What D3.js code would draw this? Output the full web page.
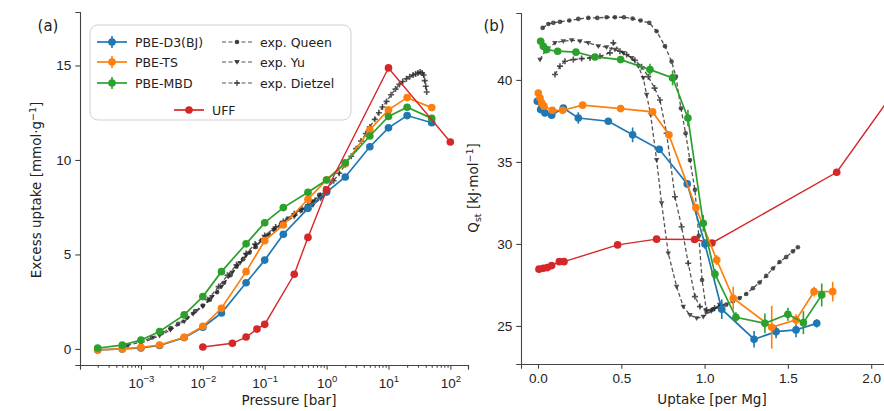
<!DOCTYPE html>
<html>
<head>
<meta charset="utf-8">
<title>Excess uptake and Qst</title>
<style>
  body { margin: 0; background: #fff; }
  svg { display: block; font-family: "DejaVu Sans", sans-serif; }
  .tick text { fill: #222; font-size: 13.5px; }
  .domain, .tick line { stroke: #444; }
</style>
</head>
<body>
<div id="chart"></div>
<script src="https://cdn.jsdelivr.net/npm/d3@7"></script>
<script>
// ---- panel (a): excess uptake vs pressure ----
var pressureDFT = [2e-4, 5e-4, 1e-3, 2e-3, 5e-3, 0.01, 0.02, 0.05, 0.1, 0.2, 0.5, 1, 2, 5, 10, 20, 50];
var uptakeD3BJ  = [-0.05, 0.0, 0.05, 0.18, 0.6, 1.15, 1.9, 3.5, 4.7, 6.07, 7.44, 8.3, 9.1, 10.7, 11.7, 12.35, 11.97];
var uptakeTS    = [-0.05, 0.0, 0.09, 0.21, 0.62, 1.2, 2.15, 4.09, 5.73, 6.56, 7.92, 8.95, 9.8, 11.6, 12.65, 13.3, 12.77];
var uptakeMBD   = [0.05, 0.2, 0.47, 0.92, 1.8, 2.77, 4.09, 5.56, 6.68, 7.48, 8.29, 8.94, 9.85, 11.27, 12.3, 12.79, 12.2];

var pressureUFF = [0.01, 0.03, 0.05, 0.075, 0.1, 0.3, 0.5, 1, 10, 100];
var uptakeUFF   = [0.1, 0.3, 0.63, 1.05, 1.3, 3.95, 5.9, 8.4, 14.87, 10.95];

var pressureQueen = [6e-4, 1e-3, 1.5e-3, 2.2e-3, 3e-3, 4e-3, 5.5e-3, 7.5e-3, 0.01, 0.013, 0.017, 0.022, 0.028, 0.035, 0.045, 0.057, 0.072, 0.09, 0.115, 0.145, 0.185, 0.235, 0.3, 0.38, 0.48, 0.6, 0.76, 0.95];
var uptakeQueen   = [0.18, 0.38, 0.6, 0.85, 1.1, 1.33, 1.65, 2.0, 2.3, 2.6, 3.0, 3.5, 3.9, 4.35, 4.75, 5.1, 5.4, 5.75, 6.05, 6.35, 6.65, 6.9, 7.1, 7.35, 7.55, 7.8, 8.15, 8.5];
var pressureYu = [1e-3, 2e-3, 3e-3, 5e-3, 7e-3, 0.01, 0.014, 0.02, 0.03, 0.04, 0.05, 0.07, 0.1, 0.14, 0.2, 0.3, 0.45, 0.6, 0.8, 1.0];
var uptakeYu   = [0.3, 0.7, 1.0, 1.45, 1.85, 2.25, 2.75, 3.3, 4.05, 4.55, 4.95, 5.45, 5.9, 6.3, 6.65, 7.0, 7.35, 7.6, 7.95, 8.25];
var pressureDietzel = [0.012, 0.018, 0.025, 0.035, 0.05, 0.07, 0.1, 0.15, 0.2, 0.3, 0.4, 0.5, 0.65, 0.8, 1.0, 1.3, 1.6, 2.0, 2.5, 3.0, 3.6, 4.3, 5.0, 6.0, 7.0, 8.0, 9.3, 11, 13, 15, 17, 19.5, 22, 25, 27.5, 30, 32.5, 35, 37, 38.5, 40, 41.5];
var uptakeDietzel   = [2.6, 3.3, 3.9, 4.45, 5.05, 5.55, 6.0, 6.45, 6.75, 7.15, 7.4, 7.6, 7.85, 8.1, 8.45, 8.9, 9.3, 9.75, 10.2, 10.6, 11.0, 11.4, 11.75, 12.15, 12.5, 12.8, 13.1, 13.45, 13.75, 14.0, 14.15, 14.3, 14.4, 14.5, 14.55, 14.6, 14.65, 14.6, 14.5, 14.2, 13.9, 13.6];

var pressureTicks = [1e-3, 1e-2, 1e-1, 1, 10, 100];
var pressureTickExp = ["\u22123", "\u22122", "\u22121", "0", "1", "2"];
var uptakeTicks = [0, 5, 10, 15];

// ---- panel (b): Qst vs uptake ----
var loadD3BJ = [-0.004, 0.016, 0.042, 0.082, 0.152, 0.242, 0.422, 0.568, 0.728, 0.896, 1.002, 1.103, 1.297, 1.429, 1.549, 1.673];
var qstD3BJ  = [38.7, 38.19, 37.99, 37.85, 38.29, 37.68, 37.48, 36.65, 35.77, 33.66, 30.0, 26.02, 24.19, 24.65, 24.76, 25.16];
var errD3BJ  = [0.1, 0.1, 0.1, 0.1, 0.15, 0.35, 0.1, 0.45, 0.2, 0.2, 0.3, 0.6, 0.5, 0.4, 0.45, 0.25];

var loadTS = [0.002, 0.012, 0.022, 0.036, 0.086, 0.148, 0.268, 0.496, 0.688, 0.786, 0.948, 1.073, 1.172, 1.403, 1.549, 1.657, 1.769];
var qstTS  = [39.2, 38.9, 38.6, 38.4, 38.15, 38.15, 38.46, 38.25, 38.05, 36.65, 32.21, 29.02, 26.69, 24.92, 25.37, 27.09, 27.09];
var errTS  = [0.1, 0.1, 0.1, 0.1, 0.1, 0.1, 0.1, 0.1, 0.1, 0.15, 0.2, 0.3, 0.7, 1.3, 0.35, 0.3, 0.6];

var loadMBD = [0.016, 0.032, 0.052, 0.118, 0.228, 0.342, 0.496, 0.672, 0.808, 0.90, 0.992, 1.062, 1.188, 1.362, 1.50, 1.593, 1.703];
var qstMBD  = [42.36, 42.05, 41.85, 41.75, 41.69, 41.4, 41.24, 40.63, 40.12, 37.68, 31.26, 28.17, 25.53, 25.16, 25.71, 25.2, 26.89];
var errMBD  = [0.1, 0.1, 0.15, 0.1, 0.1, 0.1, 0.1, 0.35, 0.45, 0.5, 0.5, 0.3, 0.3, 0.6, 0.4, 0.7, 0.7];

var loadUFF = [0.006, 0.032, 0.056, 0.082, 0.128, 0.156, 0.478, 0.712, 0.94, 1.044, 1.793, 2.4];
var qstUFF  = [28.46, 28.52, 28.56, 28.68, 28.92, 28.92, 29.94, 30.29, 30.27, 30.06, 34.37, 43.0];

var loadQueen = [0.028, 0.062, 0.092, 0.132, 0.188, 0.242, 0.302, 0.356, 0.412, 0.462, 0.516, 0.568, 0.616, 0.668, 0.712, 0.762, 0.802, 0.828, 0.858, 0.886, 0.912, 0.942, 0.965, 0.985, 1.012, 1.05, 1.09, 1.13, 1.17, 1.21, 1.25, 1.29, 1.33, 1.37, 1.41, 1.45, 1.49, 1.53, 1.56];
var qstQueen  = [43.17, 43.41, 43.48, 43.54, 43.62, 43.72, 43.78, 43.78, 43.82, 43.82, 43.82, 43.74, 43.62, 43.48, 42.97, 42.06, 41.12, 40.2, 38.27, 36.75, 35.12, 33.3, 30.5, 27.8, 25.85, 26.0, 26.15, 26.3, 26.5, 26.7, 26.95, 27.3, 27.65, 28.05, 28.5, 28.9, 29.2, 29.55, 29.8];
var loadYu = [0.012, 0.042, 0.102, 0.152, 0.202, 0.252, 0.302, 0.362, 0.412, 0.462, 0.512, 0.562, 0.602, 0.632, 0.652, 0.676, 0.712, 0.742, 0.782, 0.832, 0.872, 0.912, 0.952, 0.992, 1.04, 1.09];
var qstYu  = [41.24, 41.75, 42.26, 42.36, 42.42, 42.36, 42.26, 42.06, 42.0, 41.85, 41.65, 41.34, 40.84, 40.12, 39.1, 37.88, 35.12, 32.48, 29.43, 27.4, 26.18, 25.67, 25.47, 25.57, 25.9, 26.3];
var loadDietzel = [0.102, 0.132, 0.162, 0.212, 0.262, 0.312, 0.372, 0.432, 0.452, 0.492, 0.532, 0.582, 0.622, 0.662, 0.70, 0.732, 0.772, 0.822, 0.862, 0.902, 0.942, 0.972, 1.012, 1.06, 1.1];
var qstDietzel  = [40.33, 40.84, 41.14, 41.24, 41.3, 41.34, 41.44, 41.65, 42.26, 41.75, 41.55, 41.2, 40.8, 40.2, 39.5, 38.78, 36.75, 32.88, 31.05, 28.82, 26.79, 26.18, 25.98, 26.1, 26.3];

var loadTicks = [0, 0.5, 1.0, 1.5, 2.0];
var qstTicks = [25, 30, 35, 40];

var colors = { d3bj: "#1f77b4", ts: "#ff7f0e", mbd: "#2ca02c", uff: "#d62728", exp: "#2a2a2a" };

var W = 884, H = 411;
var svg = d3.select("#chart").append("svg").attr("width", W).attr("height", H);

function zip(xs, ys, es) {
    return xs.map(function(x, i){ return { x: x, y: ys[i], e: es ? es[i] : 0 }; });
}

function markerPath(type) {
    if (type === "small") return d3.symbol().type(d3.symbolCircle).size(17)();
    if (type === "tri") return "M-2.8,-1.9L2.8,-1.9L0,2.8Z";
    if (type === "plus") return "M-3,0L3,0M0,-3L0,3";
    return d3.symbol().type(d3.symbolCircle).size(46)();
}

function drawSeries(g, x, y, pts, opt) {
    var line = d3.line().x(function(d){ return x(d.x); }).y(function(d){ return y(d.y); });
    g.append("path").datum(pts)
        .attr("d", line)
        .attr("fill", "none")
        .attr("stroke", opt.color)
        .attr("stroke-width", opt.width || 1.7)
        .attr("stroke-dasharray", opt.dash || null)
        .attr("opacity", opt.opacity || 1);
    if (opt.err) {
        g.selectAll(null).data(pts.filter(function(d){ return d.e > 0; })).enter()
            .append("line")
            .attr("x1", function(d){ return x(d.x); })
            .attr("x2", function(d){ return x(d.x); })
            .attr("y1", function(d){ return y(d.y - d.e); })
            .attr("y2", function(d){ return y(d.y + d.e); })
            .attr("stroke", opt.color)
            .attr("stroke-width", 1.6);
    }
    g.selectAll(null).data(pts).enter()
        .append("path")
        .attr("transform", function(d){ return "translate(" + x(d.x) + "," + y(d.y) + ")"; })
        .attr("d", markerPath(opt.marker))
        .attr("fill", opt.marker === "plus" ? "none" : opt.color)
        .attr("stroke", opt.marker === "plus" ? opt.color : "none")
        .attr("stroke-width", 1.6)
        .attr("opacity", opt.opacity || 1);
}

function styleAxis(sel) {
    sel.select(".domain").attr("stroke", "#555").attr("stroke-width", 1.1);
    sel.selectAll(".tick line").attr("stroke", "#555").attr("stroke-width", 1.1);
}

// =================== panel (a) ===================
var xA = d3.scaleLog().domain([Math.pow(10, -3.985), Math.pow(10, 2.285)]).range([80, 468]);
var yA = d3.scaleLinear().domain([-0.85, 17.83]).range([365, 12]);

var gA = svg.append("g");
var clipA = svg.append("clipPath").attr("id", "clipA");
clipA.append("rect").attr("x", 80).attr("y", 0).attr("width", 388).attr("height", 365);
var plotA = gA.append("g").attr("clip-path", "url(#clipA)");

// experiments behind
var expStyle = { color: colors.exp, width: 1.3, dash: "4,2.5", opacity: 0.8 };
drawSeries(plotA, xA, yA, zip(pressureQueen, uptakeQueen), Object.assign({ marker: "small" }, expStyle));
drawSeries(plotA, xA, yA, zip(pressureYu, uptakeYu), Object.assign({ marker: "tri" }, expStyle));
drawSeries(plotA, xA, yA, zip(pressureDietzel, uptakeDietzel), Object.assign({ marker: "plus" }, expStyle));

drawSeries(plotA, xA, yA, zip(pressureDFT, uptakeD3BJ), { color: colors.d3bj, marker: "circle" });
drawSeries(plotA, xA, yA, zip(pressureDFT, uptakeTS), { color: colors.ts, marker: "circle" });
drawSeries(plotA, xA, yA, zip(pressureDFT, uptakeMBD), { color: colors.mbd, marker: "circle" });
drawSeries(plotA, xA, yA, zip(pressureUFF, uptakeUFF), { color: colors.uff, marker: "circle", width: 1.4 });

// axes (a)
var minorA = [];
for (var e = -4; e <= 2; e++) {
    for (var m = 2; m <= 9; m++) {
        var v = m * Math.pow(10, e);
        if (v > xA.domain()[0] && v < xA.domain()[1]) minorA.push(v);
    }
}
var axMinorA = gA.append("g").attr("transform", "translate(0,365)")
    .call(d3.axisBottom(xA).tickValues(minorA).tickSize(2.7).tickFormat(""));
styleAxis(axMinorA);
var axXA = gA.append("g").attr("transform", "translate(0,365)")
    .call(d3.axisBottom(xA).tickValues(pressureTicks).tickSize(4.7).tickPadding(6).tickFormat(""));
styleAxis(axXA);
axXA.selectAll(".tick").append("text")
    .attr("y", 23).attr("text-anchor", "middle")
    .each(function(d, i) {
        var t = d3.select(this);
        t.append("tspan").text("10");
        t.append("tspan").attr("dy", -6).attr("font-size", "9.5px").text(pressureTickExp[i]);
    });

var axYA = gA.append("g").attr("transform", "translate(80,0)")
    .call(d3.axisLeft(yA).tickValues(uptakeTicks).tickSize(4.7).tickPadding(4));
styleAxis(axYA);

gA.append("text").attr("x", 289).attr("y", 405).attr("text-anchor", "middle")
    .attr("font-size", "13.5px").attr("fill", "#222").text("Pressure [bar]");
gA.append("text").attr("transform", "translate(41,190) rotate(-90)").attr("text-anchor", "middle")
    .attr("font-size", "13.5px").attr("fill", "#222")
    .call(function(t){
        t.append("tspan").text("Excess uptake [mmol\u00b7g");
        t.append("tspan").attr("dy", -5).attr("font-size", "9.5px").text("\u22121");
        t.append("tspan").attr("dy", 5).text("]");
    });
gA.append("text").attr("x", 48).attr("y", 31).attr("text-anchor", "middle")
    .attr("font-size", "15px").attr("fill", "#222").text("(a)");

// legend (a)
var leg = gA.append("g");
leg.append("rect").attr("x", 90).attr("y", 25).attr("width", 261).attr("height", 95)
    .attr("rx", 8).attr("fill", "#fff").attr("fill-opacity", 0.85)
    .attr("stroke", "#d0d0d0").attr("stroke-width", 1);

var legendItems = [
    { label: "PBE-D3(BJ)", color: colors.d3bj, marker: "circle", err: true, x: 97, y: 42 },
    { label: "PBE-TS", color: colors.ts, marker: "circle", err: true, x: 97, y: 62 },
    { label: "PBE-MBD", color: colors.mbd, marker: "circle", err: true, x: 97, y: 83 },
    { label: "exp. Queen", color: colors.exp, marker: "small", dash: "4,2.5", x: 222, y: 42 },
    { label: "exp. Yu", color: colors.exp, marker: "tri", dash: "4,2.5", x: 222, y: 62 },
    { label: "exp. Dietzel", color: colors.exp, marker: "plus", dash: "4,2.5", x: 222, y: 83 },
    { label: "UFF", color: colors.uff, marker: "circle", x: 174, y: 110 }
];
legendItems.forEach(function(it) {
    var len = 30, cx = it.x + len / 2;
    leg.append("line").attr("x1", it.x).attr("x2", it.x + len).attr("y1", it.y).attr("y2", it.y)
        .attr("stroke", it.color).attr("stroke-width", it.dash ? 1.2 : 1.7)
        .attr("stroke-dasharray", it.dash || null).attr("opacity", it.dash ? 0.8 : 1);
    if (it.err) {
        leg.append("line").attr("x1", cx).attr("x2", cx).attr("y1", it.y - 6).attr("y2", it.y + 6)
            .attr("stroke", it.color).attr("stroke-width", 1.6);
    }
    leg.append("path").attr("transform", "translate(" + cx + "," + it.y + ")")
        .attr("d", markerPath(it.marker))
        .attr("fill", it.marker === "plus" ? "none" : it.color)
        .attr("stroke", it.marker === "plus" ? it.color : "none").attr("stroke-width", 1.3)
        .attr("opacity", it.dash ? 0.85 : 1);
    leg.append("text").attr("x", it.x + len + 8).attr("y", it.y).attr("dy", "0.36em")
        .attr("font-size", "12.5px").attr("fill", "#222").text(it.label);
});

// =================== panel (b) ===================
var xB = d3.scaleLinear().domain([-0.102, 2.2]).range([521, 521 + 2.302 * 166.6]);
var yB = d3.scaleLinear().domain([22.68, 44.08]).range([364, 13]);

var gB = svg.append("g");
var clipB = svg.append("clipPath").attr("id", "clipB");
clipB.append("rect").attr("x", 521).attr("y", 0).attr("width", 400).attr("height", 364);
var plotB = gB.append("g").attr("clip-path", "url(#clipB)");

drawSeries(plotB, xB, yB, zip(loadQueen, qstQueen), Object.assign({ marker: "small" }, expStyle));
drawSeries(plotB, xB, yB, zip(loadYu, qstYu), Object.assign({ marker: "tri" }, expStyle));
drawSeries(plotB, xB, yB, zip(loadDietzel, qstDietzel), Object.assign({ marker: "plus" }, expStyle));

drawSeries(plotB, xB, yB, zip(loadUFF, qstUFF), { color: colors.uff, marker: "circle", width: 1.4 });
drawSeries(plotB, xB, yB, zip(loadD3BJ, qstD3BJ, errD3BJ), { color: colors.d3bj, marker: "circle", err: true });
drawSeries(plotB, xB, yB, zip(loadTS, qstTS, errTS), { color: colors.ts, marker: "circle", err: true });
drawSeries(plotB, xB, yB, zip(loadMBD, qstMBD, errMBD), { color: colors.mbd, marker: "circle", err: true });

var axXB = gB.append("g").attr("transform", "translate(0,364)")
    .call(d3.axisBottom(xB).tickValues(loadTicks).tickSize(4.7).tickPadding(5).tickFormat(d3.format(".1f")));
styleAxis(axXB);
var axYB = gB.append("g").attr("transform", "translate(521,0)")
    .call(d3.axisLeft(yB).tickValues(qstTicks).tickSize(4.7).tickPadding(4));
styleAxis(axYB);

gB.append("text").attr("x", 712).attr("y", 404).attr("text-anchor", "middle")
    .attr("font-size", "13.5px").attr("fill", "#222").text("Uptake [per Mg]");
gB.append("text").attr("transform", "translate(478,188) rotate(-90)").attr("text-anchor", "middle")
    .attr("font-size", "13.5px").attr("fill", "#222")
    .call(function(t){
        t.append("tspan").text("Q");
        t.append("tspan").attr("dy", 3).attr("font-size", "9.5px").text("st");
        t.append("tspan").attr("dy", -3).text(" [kJ\u00b7mol");
        t.append("tspan").attr("dy", -5).attr("font-size", "9.5px").text("\u22121");
        t.append("tspan").attr("dy", 5).text("]");
    });
gB.append("text").attr("x", 494).attr("y", 31).attr("text-anchor", "middle")
    .attr("font-size", "15px").attr("fill", "#222").text("(b)");
</script>
</body>
</html>
